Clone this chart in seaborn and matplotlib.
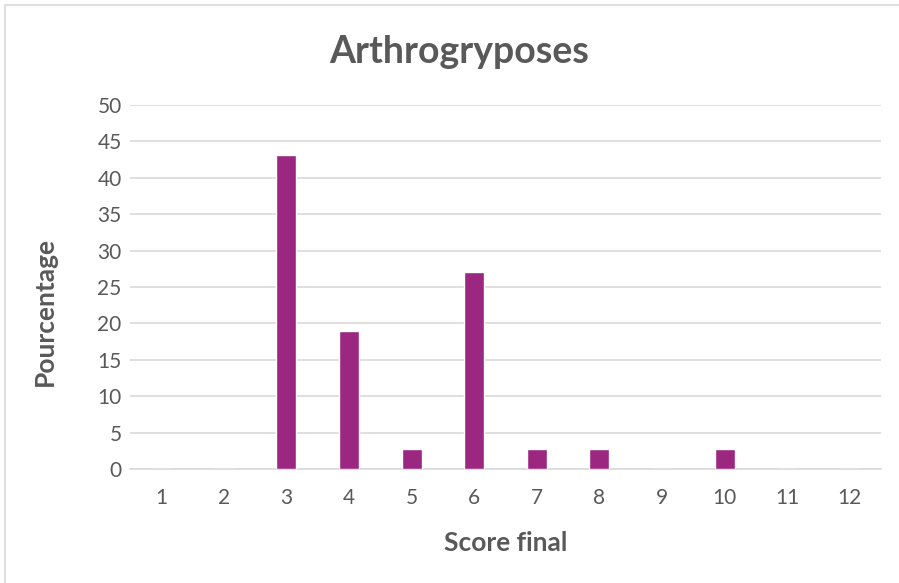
import matplotlib
matplotlib.use("Agg")
import matplotlib.pyplot as plt
import seaborn as sns
import pandas as pd
from matplotlib.patches import Rectangle

scores = ["1", "2", "3", "4", "5", "6", "7", "8", "9", "10", "11", "12"]
pourcentage = [0, 0, 43.2, 18.9, 2.7, 27.0, 2.7, 2.7, 0, 2.7, 0, 0]
yticks = [0, 5, 10, 15, 20, 25, 30, 35, 40, 45, 50]

sns.set_theme(style="white")
plt.rcParams['font.family'] = ['Lato', 'DejaVu Sans']

df = pd.DataFrame({"Score final": scores, "Pourcentage": pourcentage})

fig = plt.figure(figsize=(8.99, 5.83), dpi=100)
ax = fig.add_axes([130/899, 1-469/583, (881-130)/899, (469-105)/583])

sns.barplot(data=df, x="Score final", y="Pourcentage", order=scores,
            color="#9B2780", saturation=1, width=0.32, ax=ax, zorder=3)

text_color = "#595959"
ax.set_ylim(0, 50)
ax.set_xlim(-0.5, 11.5)
ax.set_yticks(yticks)
ax.set_yticklabels([str(t) for t in yticks], fontsize=15, color=text_color)
ax.set_xticks(range(len(scores)))
ax.set_xticklabels(scores, fontsize=15, color=text_color)
ax.tick_params(axis='both', length=0)
ax.tick_params(axis='y', pad=6)
ax.tick_params(axis='x', pad=14)
ax.yaxis.grid(True, color="#d9d9d9", linewidth=1.2, zorder=0)
ax.set_axisbelow(True)
for s in ["top", "right", "left"]:
    ax.spines[s].set_visible(False)
ax.spines["bottom"].set_color("#d9d9d9")
ax.spines["bottom"].set_linewidth(1.2)

ax.set_xlabel("Score final", fontsize=19, fontweight='bold', color=text_color, labelpad=16)
ax.set_ylabel("Pourcentage", fontsize=19, fontweight='bold', color=text_color)
ax.yaxis.set_label_coords(-(130-57)/751, (469-312)/364)
fig.text(459/899, 1-52/583, "Arthrogryposes", fontsize=27, fontweight='bold',
         color=text_color, ha='center', va='center')

fig.patches.append(Rectangle((5/899, -0.01), 1.0, 1 - 5/583 + 0.01, transform=fig.transFigure,
                             fill=False, edgecolor="#d9d9d9", linewidth=1.2))

fig.savefig("out.png", dpi=100)
